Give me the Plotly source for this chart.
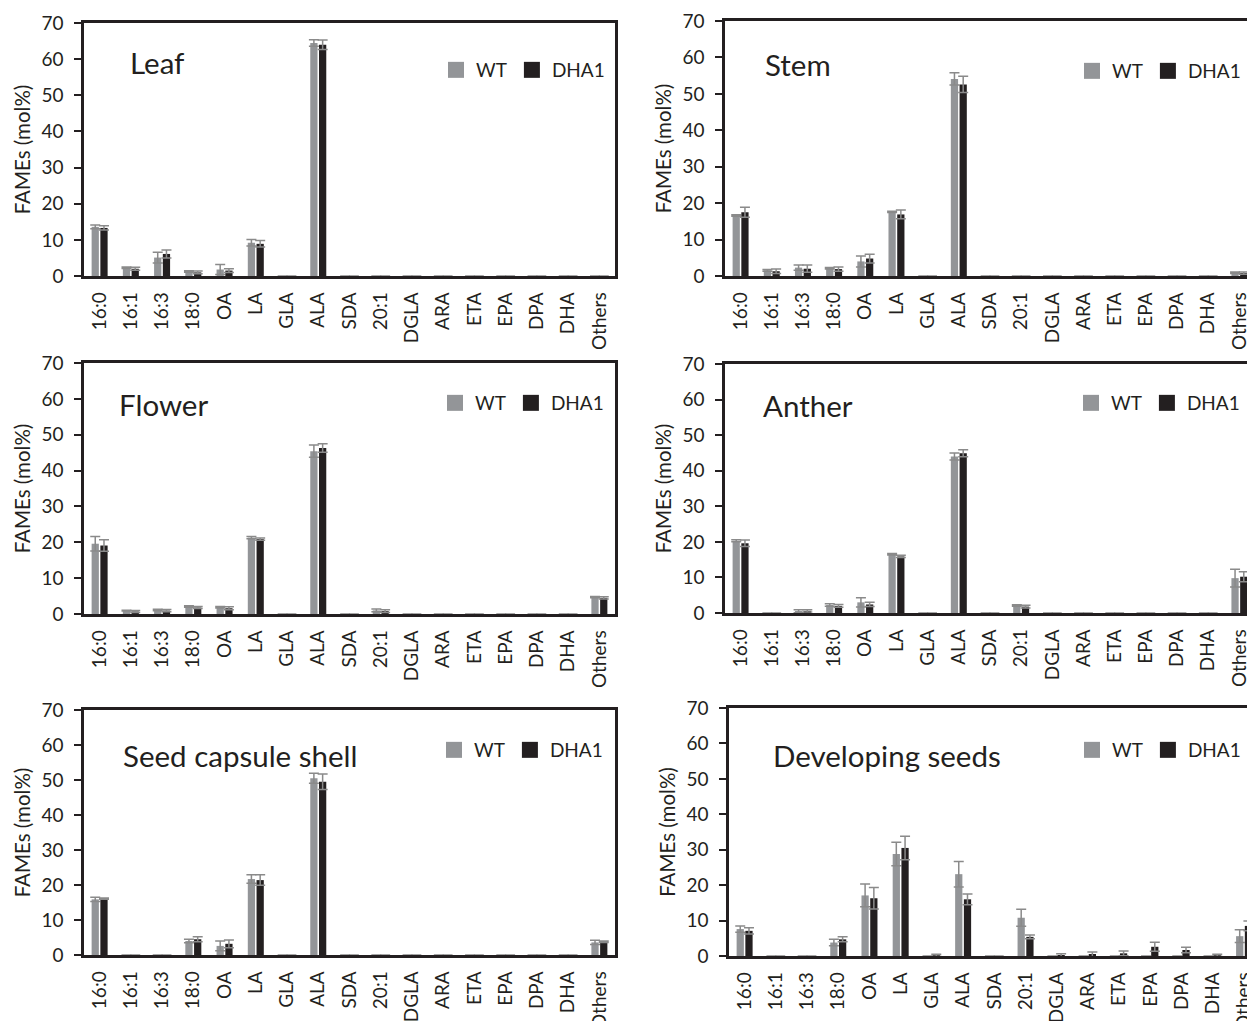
import plotly.graph_objects as go

categories = ["16:0", "16:1", "16:3", "18:0", "OA", "LA", "GLA", "ALA", "SDA", "20:1",
              "DGLA", "ARA", "ETA", "EPA", "DPA", "DHA", "Others"]
y_ticks = [0, 10, 20, 30, 40, 50, 60, 70]

tissues = ["Leaf", "Stem", "Flower", "Anther", "Seed capsule shell", "Developing seeds"]

leaf_wt = [13.6, 2.3, 5.1, 1.25, 1.8, 9.2, 0, 64.5, 0, 0, 0, 0, 0, 0, 0, 0, 0]
leaf_wt_err = [0.5, 0.2, 1.5, 0.2, 1.4, 0.9, 0, 0.9, 0, 0, 0, 0, 0, 0, 0, 0, 0]
leaf_dha1 = [13.3, 2.0, 6.1, 1.0, 1.5, 8.9, 0, 64.0, 0, 0, 0, 0, 0, 0, 0, 0, 0]
leaf_dha1_err = [0.6, 0.4, 1.1, 0.4, 0.5, 0.9, 0, 1.3, 0, 0, 0, 0, 0, 0, 0, 0, 0]

stem_wt = [16.6, 1.55, 2.3, 2.1, 4.0, 17.6, 0, 54.1, 0, 0, 0, 0, 0, 0, 0, 0, 0.9]
stem_wt_err = [0.2, 0.25, 0.7, 0.2, 1.5, 0.2, 0, 1.7, 0, 0, 0, 0, 0, 0, 0, 0, 0.2]
stem_dha1 = [17.5, 1.3, 2.0, 1.9, 4.8, 16.9, 0, 52.6, 0, 0, 0, 0, 0, 0, 0, 0, 0.8]
stem_dha1_err = [1.4, 0.6, 1.0, 0.6, 1.2, 1.2, 0, 2.2, 0, 0, 0, 0, 0, 0, 0, 0, 0.3]

flower_wt = [19.6, 0.95, 1.1, 2.1, 1.9, 21.3, 0, 45.4, 0, 1.0, 0, 0, 0, 0, 0, 0, 4.7]
flower_wt_err = [2.0, 0.1, 0.2, 0.2, 0.2, 0.3, 0, 1.7, 0, 0.4, 0, 0, 0, 0, 0, 0, 0.2]
flower_dha1 = [19.1, 0.7, 0.95, 1.8, 1.6, 20.9, 0, 46.3, 0, 0.8, 0, 0, 0, 0, 0, 0, 4.5]
flower_dha1_err = [1.6, 0.3, 0.3, 0.3, 0.4, 0.3, 0, 1.2, 0, 0.4, 0, 0, 0, 0, 0, 0, 0.3]

anther_wt = [20.3, 0, 0.5, 2.25, 3.0, 16.5, 0, 44.0, 0, 2.1, 0, 0, 0, 0, 0, 0, 9.8]
anther_wt_err = [0.3, 0, 0.4, 0.35, 1.3, 0.2, 0, 1.0, 0, 0.2, 0, 0, 0, 0, 0, 0, 2.5]
anther_dha1 = [19.6, 0, 0.6, 2.0, 2.4, 15.9, 0, 44.9, 0, 1.8, 0, 0, 0, 0, 0, 0, 10.2]
anther_dha1_err = [0.9, 0, 0.3, 0.4, 0.6, 0.3, 0, 1.0, 0, 0.4, 0, 0, 0, 0, 0, 0, 1.4]

capsule_wt = [15.9, 0, 0, 4.0, 2.6, 21.7, 0, 50.5, 0, 0, 0, 0, 0, 0, 0, 0, 3.6]
capsule_wt_err = [0.6, 0, 0, 0.5, 1.4, 1.2, 0, 1.4, 0, 0, 0, 0, 0, 0, 0, 0, 0.6]
capsule_dha1 = [16.1, 0, 0, 4.5, 3.2, 21.4, 0, 49.5, 0, 0, 0, 0, 0, 0, 0, 0, 3.8]
capsule_dha1_err = [0.2, 0, 0, 0.7, 1.1, 1.5, 0, 2.2, 0, 0, 0, 0, 0, 0, 0, 0, 0.2]

seeds_wt = [7.6, 0, 0, 3.8, 17.1, 28.8, 0, 23.1, 0, 10.8, 0, 0, 0, 0, 0, 0, 5.6]
seeds_wt_err = [0.9, 0, 0, 0.9, 3.2, 3.3, 0, 3.6, 0, 2.4, 0, 0, 0, 0, 0, 0, 1.8]
seeds_dha1 = [7.1, 0, 0, 4.7, 16.3, 30.5, 0.2, 16.0, 0, 5.4, 0.2, 0.4, 0.75, 2.6, 1.7, 0.2, 8.5]
seeds_dha1_err = [0.9, 0, 0, 0.7, 3.0, 3.3, 0.3, 1.5, 0, 0.5, 0.4, 0.7, 0.65, 1.25, 0.8, 0.3, 1.4]

wt_sets = [leaf_wt, stem_wt, flower_wt, anther_wt, capsule_wt, seeds_wt]
wt_errs = [leaf_wt_err, stem_wt_err, flower_wt_err, anther_wt_err, capsule_wt_err, seeds_wt_err]
dha_sets = [leaf_dha1, stem_dha1, flower_dha1, anther_dha1, capsule_dha1, seeds_dha1]
dha_errs = [leaf_dha1_err, stem_dha1_err, flower_dha1_err, anther_dha1_err, capsule_dha1_err, seeds_dha1_err]

# page body has an 8px margin: figure pixel = screen pixel - OFF
OFF = 8
W, H = 1255 - OFF, 1021 - OFF
WT_COLOR = "#939598"
DHA_COLOR = "#231f20"
ERR_COLOR = "#8a8a8a"
AX_COLOR = "#231f20"
FONT = "Lato"

# panel geometry in screen pixels: (left, right, top, bottom, x range end)
panels = [
    (84, 615, 23, 276, 16.5),
    (725, 1255, 21, 276, 16.5),
    (84, 615, 363, 614, 16.5),
    (725, 1255, 364, 613, 16.5),
    (84, 615, 710, 955, 16.5),
    (729, 1255, 708, 956, 16.35),
]
title_pos = [(128, 63), (763, 64), (117, 404), (761, 405), (121, 755), (771, 755)]
legend_pos = [(436, 70), (1072, 71), (435, 403), (1071, 403), (434, 750), (1072, 750)]

def px(x):
    return (x - OFF) / W

def py(y):
    return 1 - (y - OFF) / H

def clean(err, vals):
    return [e if v > 0 else None for e, v in zip(err, vals)]

fig = go.Figure()
layout = dict(
    template="none",
    width=W, height=H, margin=dict(l=0, r=0, t=0, b=0, pad=0, autoexpand=False),
    paper_bgcolor="white", plot_bgcolor="white",
    font=dict(family=FONT, color=AX_COLOR),
    barmode="group", bargap=0.44, bargroupgap=0.17,
    showlegend=True, annotations=[],
)

for i, name in enumerate(tissues):
    left, right, top, bottom, xr = panels[i]
    sfx = "" if i == 0 else str(i + 1)
    xa, ya = "x" + sfx, "y" + sfx
    lg = "legend" + sfx
    fig.add_trace(go.Bar(
        x=categories, y=wt_sets[i], name="WT", marker_color=WT_COLOR, marker_line_width=0,
        error_y=dict(type="data", array=clean(wt_errs[i], wt_sets[i]), visible=True,
                     color=ERR_COLOR, thickness=1.5, width=5),
        xaxis=xa, yaxis=ya, showlegend=False, offsetgroup="wt"))
    fig.add_trace(go.Bar(
        x=categories, y=dha_sets[i], name="DHA1", marker_color=DHA_COLOR, marker_line_width=0,
        error_y=dict(type="data", array=clean(dha_errs[i], dha_sets[i]), visible=True,
                     color=ERR_COLOR, thickness=1.5, width=5),
        xaxis=xa, yaxis=ya, showlegend=False, offsetgroup="dha"))
    for nm, col in (("WT", WT_COLOR), ("DHA1", DHA_COLOR)):
        fig.add_trace(go.Scatter(
            x=[None], y=[None], mode="markers", name=nm,
            marker=dict(symbol="square", size=17, color=col, line=dict(width=0)),
            xaxis=xa, yaxis=ya, legend=lg, showlegend=True))
    lx, ly = legend_pos[i]
    layout[lg] = dict(orientation="h", x=px(lx), y=py(ly), xanchor="left",
                      yanchor="middle", font=dict(size=19, family=FONT, color=AX_COLOR),
                      bgcolor="rgba(0,0,0,0)", borderwidth=0, itemsizing="trace",
                      tracegroupgap=0)
    right_col = i % 2 == 1
    layout["xaxis" + sfx] = dict(
        domain=[px(left), min(px(right), 1.0)], anchor=ya, automargin=False,
        type="category", categoryorder="array", categoryarray=categories,
        range=[-0.5, xr], showline=True, linewidth=2.5, linecolor=AX_COLOR,
        mirror=True, ticks="", tickangle=-90,
        tickfont=dict(size=19, family=FONT, color=AX_COLOR),
        showgrid=False, zeroline=False, ticklabelstandoff=6)
    layout["yaxis" + sfx] = dict(
        domain=[py(bottom), py(top)], anchor=xa, automargin=False,
        range=[0, 70], tickvals=y_ticks, showline=True, linewidth=2.5, linecolor=AX_COLOR,
        mirror=(not right_col), ticks="outside", ticklen=7, tickwidth=1.5, tickcolor=AX_COLOR,
        tickfont=dict(size=19, family=FONT, color=AX_COLOR), showgrid=False, zeroline=False,
        ticklabelstandoff=7,
        title=dict(text="FAMEs (mol%)", font=dict(size=20.5, family=FONT, color=AX_COLOR),
                   standoff=6))
    tx, ty = title_pos[i]
    layout["annotations"].append(dict(
        text=name, x=px(tx), y=py(ty), xref="paper", yref="paper",
        xanchor="left", yanchor="middle", showarrow=False,
        font=dict(size=29.5, family=FONT, color=AX_COLOR)))

fig.update_layout(**layout)
fig.write_html("out.html")
